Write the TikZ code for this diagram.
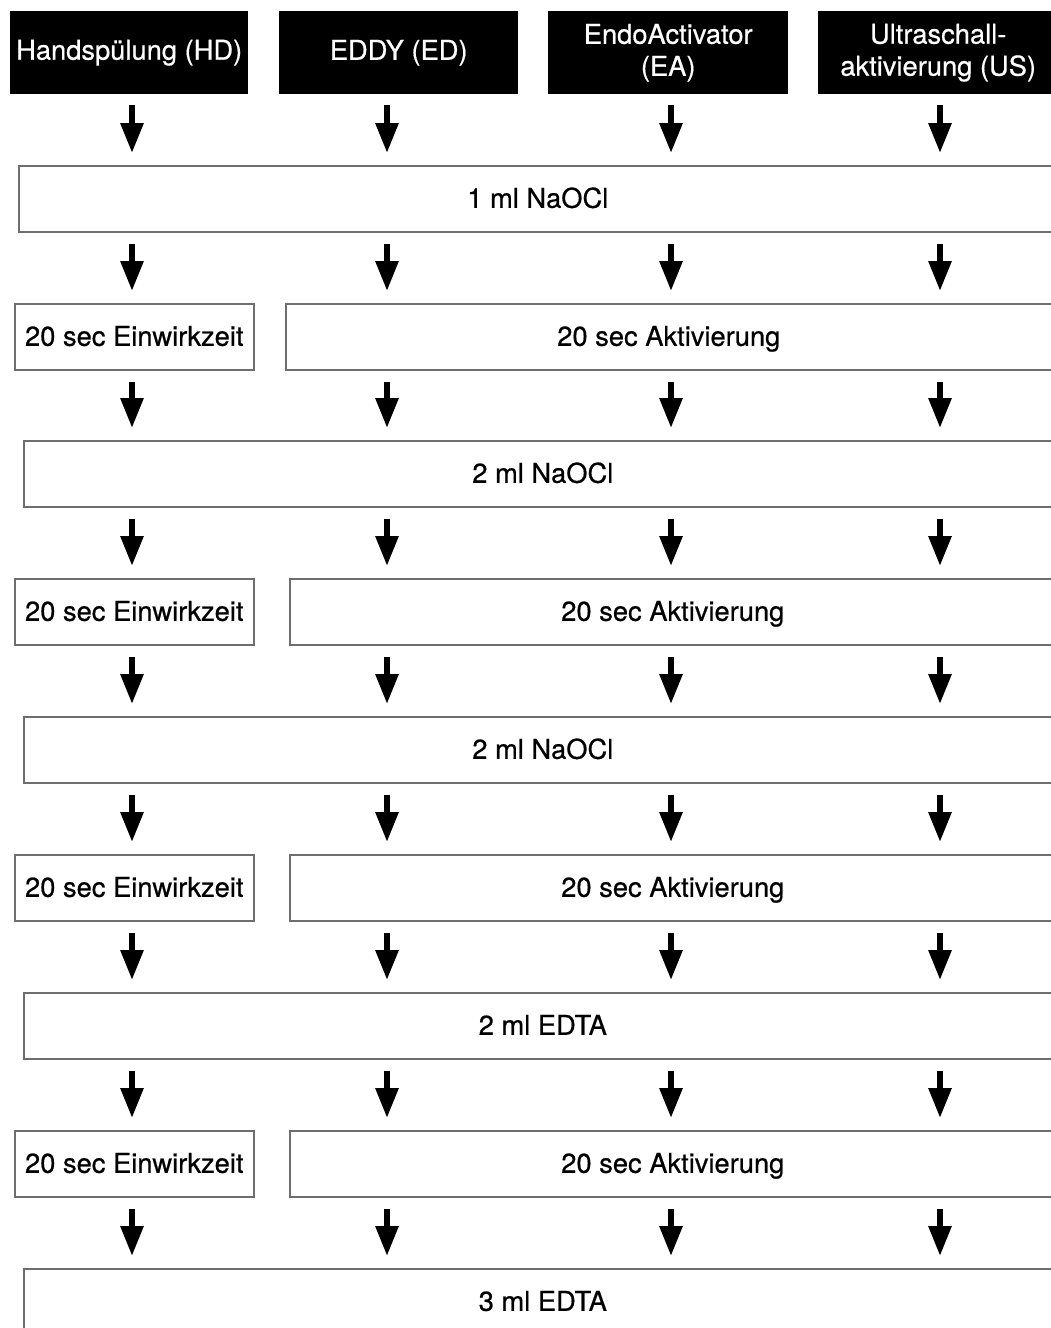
\documentclass[tikz,border=0pt]{standalone}
\usepackage{fontspec}
\setmainfont{TeX Gyre Heros}[FakeBold=0.6]
\usetikzlibrary{arrows.meta}
\definecolor{rahmen}{RGB}{110,110,110}
\tikzset{
  kopf/.style={fill=black,text=white,anchor=north west,minimum height=83pt,inner sep=0pt,align=center,font=\fontsize{27.3}{32}\selectfont},
  schritt/.style={draw=rahmen,line width=1.6pt,fill=white,anchor=north west,minimum height=66pt,inner sep=0pt,text height=22pt,text depth=4pt,font=\fontsize{27.3}{32}\selectfont},
  pfeil/.style={-{Triangle[width=22pt,length=30pt]},line width=6pt,shorten <=11pt,shorten >=12pt}
}
\begin{document}
\begin{tikzpicture}[x=1pt,y=-1pt]
	\useasboundingbox (0,0) rectangle (1051,1328);
	\clip (0,0) rectangle (1051,1328);
	% Gruppen
	\node[kopf,minimum width=238pt] (hd) at (10,11) {Handspülung (HD)};
	\node[kopf,minimum width=239pt] (ed) at (279,11) {EDDY (ED)};
	\node[kopf,minimum width=240pt] (ea) at (548,11) {EndoActivator\\(EA)};
	\node[kopf,minimum width=240pt] (us) at (818,11) {Ultraschall-\\aktivierung (US)};
	% Spuelschritte
	\node[schritt,minimum width=1038pt] (n1) at (18,165) {1 ml NaOCl};
	\node[schritt,minimum width=239pt] (e1) at (14,303) {20 sec Einwirkzeit};
	\node[schritt,minimum width=766pt] (a1) at (285,303) {20 sec Aktivierung};
	\node[schritt,minimum width=1038pt] (n2) at (23,440) {2 ml NaOCl};
	\node[schritt,minimum width=239pt] (e2) at (14,578) {20 sec Einwirkzeit};
	\node[schritt,minimum width=766pt] (a2) at (289,578) {20 sec Aktivierung};
	\node[schritt,minimum width=1038pt] (n3) at (23,716) {2 ml NaOCl};
	\node[schritt,minimum width=239pt] (e3) at (14,854) {20 sec Einwirkzeit};
	\node[schritt,minimum width=766pt] (a3) at (289,854) {20 sec Aktivierung};
	\node[schritt,minimum width=1038pt] (n4) at (23,992) {2 ml EDTA};
	\node[schritt,minimum width=239pt] (e4) at (14,1130) {20 sec Einwirkzeit};
	\node[schritt,minimum width=766pt] (a4) at (289,1130) {20 sec Aktivierung};
	\node[schritt,minimum width=1038pt] (n5) at (23,1268) {3 ml EDTA};
	% Spalten der Pfeile
	\coordinate (c1) at (132,0);
	\coordinate (c2) at (387,0);
	\coordinate (c3) at (671,0);
	\coordinate (c4) at (940,0);
	\foreach \k/\g in {1/hd,2/ed,3/ea,4/us}
		\draw[pfeil] (c\k |- \g.south) -- (c\k |- n1.north);
	\foreach \i [evaluate=\i as \j using int(\i+1)] in {1,...,4}{
		\draw[pfeil] (c1 |- n\i.south) -- (c1 |- e\i.north);
		\draw[pfeil] (c1 |- e\i.south) -- (c1 |- n\j.north);
		\foreach \k in {2,3,4}{
			\draw[pfeil] (c\k |- n\i.south) -- (c\k |- a\i.north);
			\draw[pfeil] (c\k |- a\i.south) -- (c\k |- n\j.north);
		}
	}
\end{tikzpicture}
\end{document}
